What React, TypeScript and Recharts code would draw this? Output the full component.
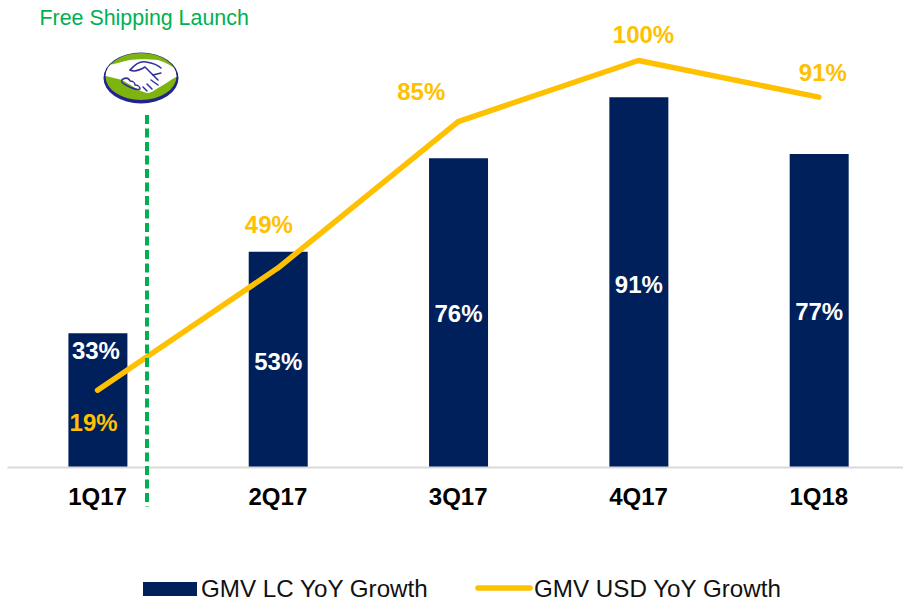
import React from "react";
import { ComposedChart, Bar, Line, XAxis, YAxis, Legend, LabelList } from "recharts";

const quarters = ["1Q17", "2Q17", "3Q17", "4Q17", "1Q18"];
const gmvLcGrowth = [33, 53, 76, 91, 77];
const gmvUsdGrowth = [19, 49, 85, 100, 91];

const chartData = quarters.map((q, i) => ({ q, lc: gmvLcGrowth[i], usd: gmvUsdGrowth[i] }));

const FONT = '"Liberation Sans", Arial, sans-serif';
const NAVY = "#00205C";
const GOLD = "#FFC000";
const GREEN = "#00B050";

const barLabelShift: [number, number][] = [[-2, -50], [0, 2], [0, 1], [0, 2], [0, 1]];
const lineLabelShift: [number, number][] = [[-4, 32], [-9, -44], [-37, -30], [5, -26], [4, -25]];

const BarValueLabel = (p: any) => (
  <text x={p.x + p.width / 2 + barLabelShift[p.index][0]} y={p.y + p.height / 2 + barLabelShift[p.index][1]} fill="#fff"
    textAnchor="middle" dominantBaseline="central" fontFamily={FONT} fontWeight={700} fontSize={24}>
    {p.value}%
  </text>
);

const LineValueLabel = (p: any) => (
  <text x={p.x + lineLabelShift[p.index][0]} y={p.y + lineLabelShift[p.index][1]} fill={GOLD} textAnchor="middle"
    dominantBaseline="central" fontFamily={FONT} fontWeight={700} fontSize={24}>
    {p.value}%
  </text>
);

const LegendContent = () => (
  <svg width={903} height={34} style={{ display: "block" }}>
    <rect x={143} y={12} width={54} height={14} fill={NAVY} />
    <text x={201} y={27} fontFamily={FONT} fontSize={24.2} fill="#111">GMV LC YoY Growth</text>
    <line x1={478} x2={530} y1={18} y2={18} stroke={GOLD} strokeWidth={5.5} strokeLinecap="round" />
    <text x={534} y={27} fontFamily={FONT} fontSize={24.2} fill="#111">GMV USD YoY Growth</text>
  </svg>
);

const Logo = () => (
  <g>
    <defs>
      <clipPath id="logoClip"><ellipse cx={141} cy={76.5} rx={35.5} ry={23.5} /></clipPath>
    </defs>
    <ellipse cx={141} cy={78} rx={37.5} ry={25.5} fill="#23238E" />
    <ellipse cx={141} cy={76.5} rx={35.5} ry={23.5} fill="#7DB40F" />
    <g clipPath="url(#logoClip)">
      <path d="M103 65 L108 65 C116 64 124 61 130 60 C136 59 150 59 158 60 C166 62 173 67 180 72 L180 76 L178 76 C170 80 164 85 158 88 C154 91 150 93 147 93 C138 91 130 84 122 80 L106 76 L103 76 Z" fill="#fff" />
    </g>
    <g fill="none" stroke="#2E2E9E" strokeWidth={1.5} strokeLinecap="round" strokeLinejoin="round">
      <path d="M130 70 C134 66 138 61 146 62 C152 63 158 65 161 68" />
      <path d="M130 70 C134 72 140 70 145 67 L158 80" />
      <path d="M153 75 L161 73 M151 80 L158 85 M147 84 L152 89 M143 87 L147 91" />
      <path d="M123 79 C127 77 129 79 130 81 C133 81 135 83 135 85 C138 85 140 87 140 89 C137 91 131 88 124 84 C121 82 121 80 123 79 Z" />
    </g>
  </g>
);

export default function App() {
  return (
    <div style={{ position: "absolute", left: 0, top: 0, width: 903, height: 599, overflow: "hidden", background: "#fff" }}>
      <ComposedChart width={903} height={599} data={chartData} margin={{ top: 19.8, right: -6, bottom: 0, left: 7.4 }}>
        <XAxis dataKey="q" height={131.5} interval={0} tickLine={false}
          axisLine={{ stroke: "#D9D9D9", strokeWidth: 2 }}
          tick={{ fill: "#000", fontFamily: FONT, fontWeight: 700, fontSize: 24 }} tickMargin={14.5} />
        <YAxis hide domain={[0, 110]} width={0} />
        <Bar dataKey="lc" name="GMV LC YoY Growth" fill={NAVY} barSize={59} isAnimationActive={false}>
          <LabelList dataKey="lc" content={BarValueLabel} />
        </Bar>
        <Line dataKey="usd" name="GMV USD YoY Growth" type="linear" stroke={GOLD} strokeWidth={5.5} strokeLinecap="round"
          strokeLinejoin="round" dot={false} activeDot={false} isAnimationActive={false}>
          <LabelList dataKey="usd" content={LineValueLabel} />
        </Line>
        <Legend verticalAlign="middle" align="center" content={LegendContent}
          wrapperStyle={{ top: 570, left: 0, width: 903, bottom: "auto", height: 34 }} />
      </ComposedChart>
      <svg width={903} height={599} style={{ position: "absolute", left: 0, top: 0, pointerEvents: "none" }}>
        <line x1={147} x2={147} y1={115} y2={507} stroke={GREEN} strokeWidth={4} strokeDasharray="9 4.5" />
        <text x={39.5} y={25} fontFamily={FONT} fontSize={21.4} fill={GREEN}>Free Shipping Launch</text>
        <Logo />
      </svg>
    </div>
  );
}
